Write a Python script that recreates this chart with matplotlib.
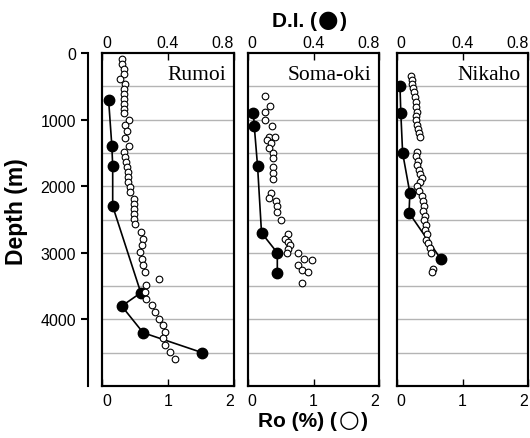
import numpy as np
import matplotlib.pyplot as plt
from matplotlib.offsetbox import TextArea, HPacker, AnnotationBbox

# Rumoi
rumoi_ro_depth = [90, 165, 240, 315, 390, 465, 540, 615, 690, 765, 840, 900, 1000, 1080, 1165, 1280,
                  1390, 1490, 1560, 1640, 1710, 1790, 1860, 1940, 2010, 2090, 2190, 2265, 2340, 2415,
                  2490, 2565, 2690, 2800, 2890, 2990, 3090, 3190, 3290, 3390, 3490, 3590, 3690, 3790,
                  3890, 3990, 4090, 4190, 4280, 4390, 4490, 4590]
rumoi_ro = [0.31, 0.31, 0.33, 0.33, 0.27, 0.35, 0.34, 0.33, 0.34, 0.34, 0.33, 0.33, 0.41, 0.35, 0.38, 0.35,
            0.41, 0.33, 0.35, 0.37, 0.38, 0.39, 0.40, 0.40, 0.42, 0.43, 0.49, 0.49, 0.49, 0.49,
            0.48, 0.50, 0.60, 0.63, 0.61, 0.57, 0.61, 0.62, 0.66, 0.86, 0.67, 0.66, 0.67, 0.76,
            0.81, 0.86, 0.93, 0.95, 0.93, 0.95, 1.03, 1.11]
rumoi_di_depth = [700, 1400, 1700, 2300, 3600, 3800, 4200, 4500]
rumoi_di = [0.04, 0.06, 0.065, 0.065, 0.236, 0.12, 0.25, 0.61]

# Soma-oki
soma_ro_depth = [640, 800, 890, 1000, 1100, 1265, 1265, 1300, 1355, 1425, 1500, 1580, 1715, 1800, 1890,
                 2100, 2175, 2215, 2300, 2390, 2500, 2725, 2790, 2840, 2890, 2940, 3000, 3005, 3090,
                 3105, 3190, 3265, 3290, 3455]
soma_ro = [0.27, 0.34, 0.26, 0.27, 0.37, 0.33, 0.42, 0.30, 0.36, 0.33, 0.38, 0.38, 0.38, 0.38, 0.38,
           0.36, 0.33, 0.43, 0.44, 0.45, 0.51, 0.62, 0.56, 0.61, 0.65, 0.61, 0.59, 0.77, 0.86,
           0.97, 0.76, 0.83, 0.91, 0.83]
soma_di_depth = [900, 1100, 1700, 2700, 3000, 3300]
soma_di = [0.035, 0.04, 0.06, 0.084, 0.18, 0.18]

# Nikaho
nikaho_ro_depth = [340, 400, 465, 530, 590, 665, 740, 815, 880, 940, 1005, 1080, 1140, 1200, 1265,
                   1490, 1550, 1615, 1680, 1750, 1815, 1880, 1940, 1990, 2065, 2140, 2215, 2290, 2365,
                   2440, 2515, 2590, 2665, 2715, 2815, 2850, 2925, 3000, 3240, 3290]
nikaho_ro = [0.21, 0.23, 0.24, 0.25, 0.26, 0.28, 0.29, 0.30, 0.31, 0.29, 0.30, 0.31, 0.33, 0.34, 0.35,
             0.31, 0.30, 0.33, 0.31, 0.34, 0.36, 0.38, 0.35, 0.31, 0.34, 0.38, 0.40, 0.41, 0.40,
             0.43, 0.41, 0.45, 0.43, 0.46, 0.45, 0.48, 0.51, 0.52, 0.55, 0.53]
nikaho_di_depth = [500, 900, 1500, 2100, 2400, 3100]
nikaho_di = [0.02, 0.025, 0.036, 0.08, 0.075, 0.27]

wells = ["Rumoi", "Soma-oki", "Nikaho"]
ro_depths = [rumoi_ro_depth, soma_ro_depth, nikaho_ro_depth]
ros = [rumoi_ro, soma_ro, nikaho_ro]
di_depths = [rumoi_di_depth, soma_di_depth, nikaho_di_depth]
dis = [rumoi_di, soma_di, nikaho_di]

W, H = 530, 439
fig = plt.figure(figsize=(W / 100, H / 100), dpi=100)
sans = ['Liberation Sans', 'DejaVu Sans']
plt.rcParams['font.family'] = sans

lefts = [102, 247.7, 396.7]
pw = 131.6
top, bot = 54, 387
lw = 1.5
tick_fs = 11.5

for i in range(3):
    ax = fig.add_axes([lefts[i] / W, (H - bot) / H, pw / W, (bot - top) / H])
    tw = ax.twiny()
    # grid on the twin (drawn underneath), open circles on ax on top
    ax.set_zorder(tw.get_zorder() + 1)
    ax.patch.set_visible(False)
    for d in range(500, 5000, 500):
        tw.axhline(d, color='#b4b4b4', lw=1, zorder=0)
    tw.plot(dis[i], di_depths[i], '-o', color='black', lw=1.2, ms=7.5, zorder=2)
    ax.plot(ros[i], ro_depths[i], 'o', mfc='white', mec='black', mew=0.8, ms=4.8, zorder=3)

    ax.set_xlim(0, 2)
    tw.set_xlim(0, 0.8)
    ax.set_ylim(5000, 0)
    ax.set_yticks([])
    ax.set_xticks([0, 1, 2])
    tw.set_xticks([0, 0.4, 0.8])
    ax.set_xticklabels(['0', '1', '2'])
    tw.set_xticklabels(['0', '0.4', '0.8'])
    ax.tick_params(axis='x', direction='in', length=5, width=1, labelsize=tick_fs, pad=5)
    tw.tick_params(axis='x', direction='in', length=5, width=1, labelsize=tick_fs, pad=2)
    for a in (ax, tw):
        labs = a.get_xticklabels()
        labs[0].set_ha('left')
        labs[-1].set_ha('right')
        for s in a.spines.values():
            s.set_linewidth(lw)
    ax.text(0.94, 0.965, wells[i], transform=ax.transAxes, ha='right', va='top',
            fontsize=15.5, family='Liberation Serif')

# separate depth axis
ax0 = fig.add_axes([88.3 / W, (H - bot) / H, 0.0001, (bot - top) / H])
ax0.set_ylim(5000, 0)
ax0.set_xticks([])
ax0.set_yticks([0, 1000, 2000, 3000, 4000])
for k in ['top', 'right', 'bottom']:
    ax0.spines[k].set_visible(False)
ax0.spines['left'].set_linewidth(lw)
ax0.patch.set_visible(False)
ax0.tick_params(axis='y', direction='out', length=5, width=1.5, labelsize=tick_fs, pad=4)

fig.text(17 / W, 1 - 212 / H, 'Depth (m)', rotation=90, ha='center', va='center',
         fontsize=16.5, fontweight='bold', family=sans)


def label_with_symbol(before, sym, after, x, y):
    bold = dict(fontsize=15, fontweight='bold', family='Liberation Sans')
    parts = [TextArea(before, textprops=bold),
             TextArea(sym, textprops=dict(fontsize=17, family='DejaVu Sans')),
             TextArea(after, textprops=bold)]
    box = HPacker(children=parts, align='baseline', pad=0, sep=1)
    ab = AnnotationBbox(box, (x / W, 1 - y / H), xycoords='figure fraction',
                        frameon=False, box_alignment=(0.5, 0.5), pad=0)
    fig.add_artist(ab)


label_with_symbol('D.I. (', '\u25CF', ')', 309.5, 20)
label_with_symbol('Ro (%) (', '\u25CB', ')', 313, 420)

fig.savefig('out.png', dpi=100)
